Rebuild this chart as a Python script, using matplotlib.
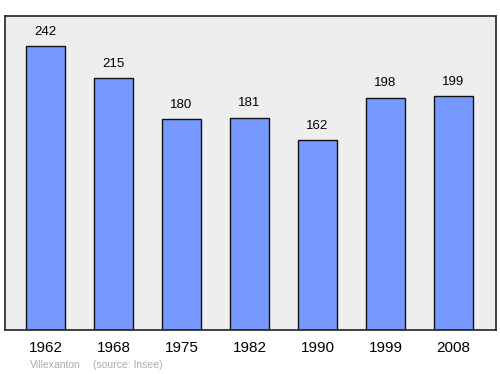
import matplotlib
matplotlib.use("Agg")
import matplotlib.pyplot as plt

plt.rcParams["font.family"] = ["Liberation Sans", "DejaVu Sans"]

years = ["1962", "1968", "1975", "1982", "1990", "1999", "2008"]
population = [242, 215, 180, 181, 162, 198, 199]

fig = plt.figure(figsize=(5, 3.74), dpi=100)
W, H = 500, 374
ax = fig.add_axes([5 / W, 1 - 330 / H, 491 / W, 314 / H])
ax.set_facecolor("#eeeeee")
x = list(range(len(years)))
ax.bar(x, population, width=0.574, color="#7799ff", edgecolor="#111111", linewidth=1)
for xi, v in zip(x, population):
    ax.text(xi, v + 7, str(v), ha="center", va="bottom", fontsize=9.5)
ax.set_xlim(-0.596, 6.625)
ax.set_ylim(0, 267.6)
ax.set_yticks([])
ax.set_xticks(x)
ax.set_xticklabels(years, fontsize=11)
ax.tick_params(axis="x", length=0, pad=8)
for s in ax.spines.values():
    s.set_linewidth(1.2)
    s.set_color("#222222")
fig.text(30 / W, 1 - 365 / H, "Villexanton", fontsize=7.5, color="#aaaaaa", va="center")
fig.text(93 / W, 1 - 365 / H, "(source: Insee)", fontsize=7.5, color="#aaaaaa", va="center")
fig.savefig("out.png", dpi=100)
